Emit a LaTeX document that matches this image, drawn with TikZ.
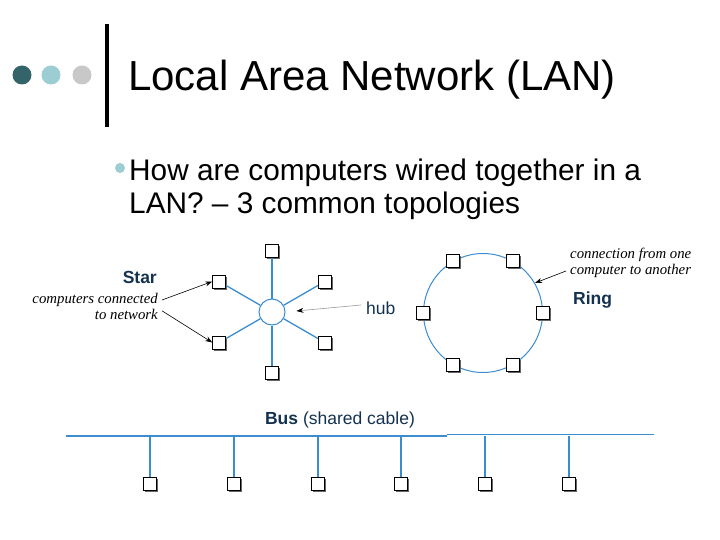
\documentclass[tikz,border=0pt]{standalone}
\usepackage{fontspec}
\setmainfont{Liberation Sans}
\newfontfamily\timesit{Liberation Serif}
\usetikzlibrary{arrows.meta,positioning,shadows}
\definecolor{dotdark}{RGB}{50,100,105}
\definecolor{dotteal}{RGB}{155,205,210}
\definecolor{dotgray}{RGB}{200,200,200}
\definecolor{navy}{RGB}{20,50,80}
\definecolor{cableblue}{RGB}{60,140,210}
\tikzset{
  pc/.style={draw, fill=white, minimum size=13pt, inner sep=0pt, line width=0.8pt,
    drop shadow={shadow xshift=1.5pt, shadow yshift=-1.5pt, fill=black!60, opacity=1}},
  cable/.style={draw=cableblue, line width=1.3pt},
  note/.style={font=\timesit\itshape\fontsize{14.8}{16}\selectfont, inner sep=0pt},
  label/.style={text=navy, font=\fontsize{17.5}{20}\selectfont, inner sep=0pt},
  pointer/.style={-{Stealth[length=7pt,width=5pt]}, line width=0.6pt}
}
\begin{document}
\begin{tikzpicture}[x=1pt,y=-1pt]
\useasboundingbox (0,0) rectangle (720,540);

\fill[dotdark] (22,75) circle (9.5pt);
\fill[dotteal] (51,75) circle (9.5pt);
\fill[dotgray] (82,75) circle (9.5pt);
\draw[line width=3.5pt] (107,24) -- (107,127);
\node[anchor=base west, inner sep=0pt, font=\fontsize{42}{46}\selectfont] (title) at (128,91) {Local Area Network (LAN)};

\fill[dotteal] (120,168) circle (5pt);
\node[anchor=north west, inner sep=0pt, align=left, font=\fontsize{29.8}{33}\selectfont] (question) at (129,159)
  {How are computers wired together in a\\LAN? -- 3 common topologies};

\node[circle, draw=cableblue, line width=1pt, minimum size=26pt, inner sep=0pt] (hub) at (272,312) {};
\node[pc] (s90) at ([shift={(90:61pt)}]hub.center) {};
\node[pc] (s30) at ([shift={(30:61pt)}]hub.center) {};
\node[pc] (s150) at ([shift={(150:61pt)}]hub.center) {};
\node[pc] (s210) at ([shift={(210:61pt)}]hub.center) {};
\node[pc] (s330) at ([shift={(330:61pt)}]hub.center) {};
\node[pc] (s270) at ([shift={(270:61pt)}]hub.center) {};
\path[cable] (hub) edge (s90) edge (s30) edge (s150) edge (s210) edge (s330) edge (s270);

\node[label, font=\bfseries\fontsize{17.5}{20}\selectfont, anchor=base east] (star) at (157,283) {Star};
\node[note, align=right, anchor=north east] (connected) at (158,293) {computers connected\\to network};
\draw[pointer] ([xshift=4pt,yshift=-7pt]connected.north east) -- (s150.west);
\draw[pointer] ([xshift=4pt,yshift=9pt]connected.south east) -- (s210.west);

\node[label, anchor=west] (hublabel) at (366,308) {hub};
\draw[pointer, draw=gray!80, -{Stealth[length=7pt,width=5pt,black]}, shorten >=11pt] ([xshift=-5pt,yshift=3pt]hublabel.west) -- (hub.east);

\node[circle, draw=cableblue, line width=1pt, minimum size=119pt, inner sep=0pt] (ring) at (483,313) {};
\node[pc] (r0) at (ring.0) {};
\node[pc] (r60) at (ring.60) {};
\node[pc] (r120) at (ring.120) {};
\node[pc] (r180) at (ring.180) {};
\node[pc] (r240) at (ring.240) {};
\node[pc] (r300) at (ring.300) {};

\node[note, align=left, anchor=north west] (hop) at (570,248) {connection from one\\computer to another};
\draw[pointer] ([xshift=-4pt,yshift=-8pt]hop.west) -- (ring.30);
\node[label, font=\bfseries\fontsize{17.5}{20}\selectfont, anchor=west] (ringlabel) at (573,300) {Ring};

\node[label, anchor=base] (buslabel) at (340,424) {\textbf{Bus} (shared cable)};
\coordinate (busL) at (66,436);
\coordinate (busM) at (447,436);
\coordinate (busN) at (447,434.5);
\coordinate (busR) at (654,434.5);
\draw[cable] (busL) -- (busM);
\draw[cable, line width=1.8pt] (busN) -- (busR);
\foreach \n/\x in {1/150,2/234,3/318,4/401,5/485,6/569} {
  \node[pc] (b\n) at (\x,484) {};
  \draw[cable] (b\n.north) -- (b\n |- busL);
}
\end{tikzpicture}
\end{document}
